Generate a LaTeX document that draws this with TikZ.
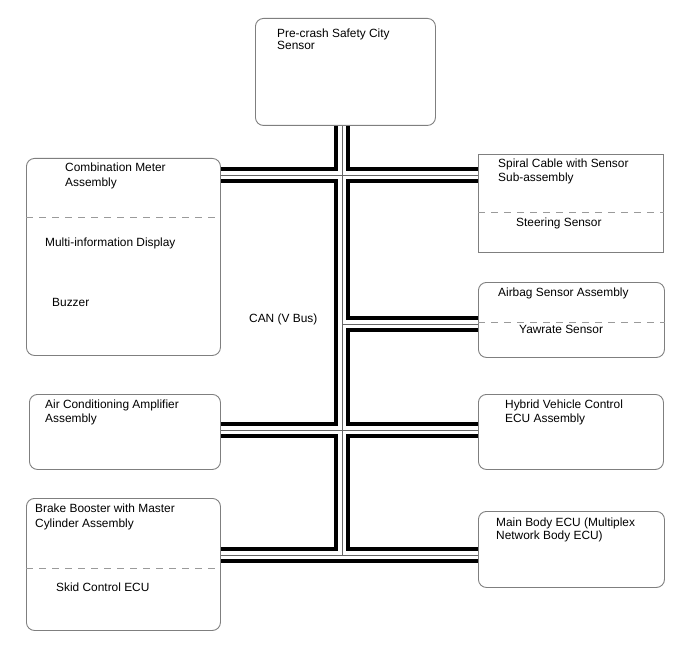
\documentclass[tikz,border=0pt]{standalone}
\usepackage{fontspec}
\setmainfont{Liberation Sans}
\usepackage{xcolor}
\definecolor{BoxEdge}{HTML}{7F7F7F}
\definecolor{SepLine}{HTML}{9A9A9A}
\usetikzlibrary{calc}

\begin{document}
\begin{tikzpicture}[
  x=1pt, y=-1pt,
  font=\fontsize{11.9}{14}\selectfont,
  unit/.style={draw=BoxEdge, line width=0.9pt, rounded corners=8pt,
               anchor=north west, inner sep=0pt},
  lbl/.style={anchor=north west, align=left, inner sep=0pt},
  sep/.style={draw=SepLine, line width=0.9pt, dash pattern=on 7pt off 6pt},
  bus/.style={draw=white, line width=8pt,
              preaction={draw=black, line width=16pt},
              postaction={draw=black!60, line width=0.7pt}}
]
  \useasboundingbox (0,0) rectangle (688,658);

  % control units
  \node[unit, minimum width=180, minimum height=107] (precrash) at (255,18) {};
  \node[unit, minimum width=194, minimum height=197] (meter) at (26,158) {};
  \node[unit, sharp corners, minimum width=185, minimum height=98] (spiral) at (478,154) {};
  \node[unit, minimum width=186, minimum height=75] (airbag) at (478,282) {};
  \node[unit, minimum width=191, minimum height=75] (aircon) at (29,394) {};
  \node[unit, minimum width=185, minimum height=75] (hybrid) at (478,394) {};
  \node[unit, minimum width=194, minimum height=132] (brake) at (26,498) {};
  \node[unit, minimum width=186, minimum height=76] (mainbody) at (478,511) {};

  % sub-parts
  \draw[sep] (meter.west |- 0,217) -- (meter.east |- 0,217);
  \draw[sep] (spiral.west |- 0,212) -- (spiral.east |- 0,212);
  \draw[sep] (airbag.west |- 0,322) -- (airbag.east |- 0,322);
  \draw[sep] (brake.west |- 0,568) -- (brake.east |- 0,568);

  % labels
  \node[lbl, font=\fontsize{11.9}{12.5}\selectfont] (precrashlbl) at (277,28.5)
    {Pre-crash Safety City\\Sensor};
  \node[lbl, font=\fontsize{11.9}{15}\selectfont] (meterlbl) at (65,162.5)
    {Combination Meter\\Assembly};
  \node[lbl] (mid) at (45,237.5) {Multi-information Display};
  \node[lbl] (buzzer) at (52,298.5) {Buzzer};
  \node[lbl] (spirallbl) at (498,158.5) {Spiral Cable with Sensor\\Sub-assembly};
  \node[lbl] (steering) at (516,217.5) {Steering Sensor};
  \node[lbl] (airbaglbl) at (498,287.5) {Airbag Sensor Assembly};
  \node[lbl] (yawrate) at (519,324.5) {Yawrate Sensor};
  \node[lbl] (airconlbl) at (45,399.5) {Air Conditioning Amplifier\\Assembly};
  \node[lbl] (hybridlbl) at (505,399.5) {Hybrid Vehicle Control\\ECU Assembly};
  \node[lbl, font=\fontsize{11.9}{15}\selectfont] (brakelbl) at (35,503.5)
    {Brake Booster with Master\\Cylinder Assembly};
  \node[lbl] (skid) at (56,582.5) {Skid Control ECU};
  \node[lbl, font=\fontsize{11.9}{13}\selectfont] (mainbodylbl) at (496,517.5)
    {Main Body ECU (Multiplex\\Network Body ECU)};
  \node[lbl] (canlbl) at (249,313.5) {CAN (V Bus)};

  % bus junctions
  \coordinate (j1) at (342,175);
  \coordinate (j2) at (342,324);
  \coordinate (j3) at (342,430);
  \coordinate (j4) at (342,555);

  \draw[bus] (j1 |- precrash.south) -- (j4)
    (meter.east |- j1) -- (spiral.west |- j1)
    (j2) -- (airbag.west |- j2)
    (aircon.east |- j3) -- (hybrid.west |- j3)
    (brake.east |- j4) -- (mainbody.west |- j4);
\end{tikzpicture}
\end{document}
